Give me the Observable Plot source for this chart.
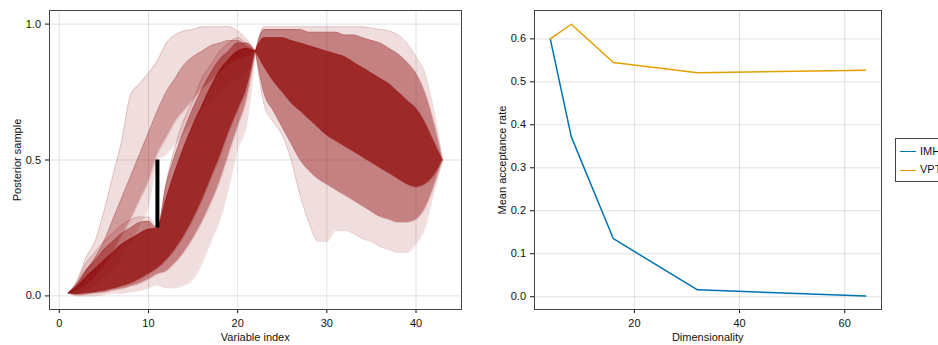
<!DOCTYPE html>
<html>
<head>
<meta charset="utf-8">
<script src="https://cdn.jsdelivr.net/npm/d3@7"></script>
<script src="https://cdn.jsdelivr.net/npm/@observablehq/plot@0.6"></script>
<style>
html, body { margin: 0; padding: 0; background: #fff; overflow: hidden; }
#wrap { position: relative; width: 938px; height: 345px; overflow: hidden; font-family: "Liberation Sans", Arial, sans-serif; color: #111; }
#left { position: absolute; left: 0; top: 0; }
#right { position: absolute; left: 470px; top: 0; }
.lbl { position: absolute; font-size: 11px; line-height: 11px; white-space: nowrap; }
.xl { transform: translateX(-50%); }
.yl { transform: translate(-50%, -50%) rotate(-90deg); }
.legend { position: absolute; left: 895px; top: 137.5px; width: 80px; height: 44px; border: 1px solid #444; box-sizing: border-box; background: #fff; }
.legend .ln { position: absolute; left: 4px; width: 16px; height: 0; border-top: 1.5px solid; }
.legend .tx { position: absolute; left: 24px; font-size: 11px; line-height: 11px; }
</style>
</head>
<body>
<div id="wrap">
  <div id="left"></div>
  <div id="right"></div>
  <div class="lbl xl" style="left:255.3px; top:332.2px;">Variable index</div>
  <div class="lbl yl" style="left:16.7px; top:159.5px;">Posterior sample</div>
  <div class="lbl xl" style="left:707.7px; top:332.2px;">Dimensionality</div>
  <div class="lbl yl" style="left:501.7px; top:159.5px;">Mean acceptance rate</div>
  <div class="legend">
    <div class="ln" style="top:12.5px; border-color:#0072B2;"></div>
    <div class="tx" style="top:7.2px;">IMH</div>
    <div class="ln" style="top:31px; border-color:#E69F00;"></div>
    <div class="tx" style="top:25.7px;">VPT</div>
  </div>
</div>
<script>
// ---------- Left panel: posterior sample envelopes ----------
const leftIdx   = [1,2,3,4,5,6,7,8,9,10,11,12,13,14,15,16,17,18,19,20,21,22];
// bundle passing below the constraint at index 11
const lowOuterLo = [0.01,0.0,0.0,0.0,0.005,0.01,0.01,0.015,0.02,0.03,0.04,0.03,0.03,0.04,0.06,0.12,0.2,0.28,0.4,0.54,0.63,0.9];
const lowOuterHi = [0.01,0.05,0.12,0.16,0.2,0.23,0.26,0.28,0.29,0.29,0.25,0.42,0.55,0.65,0.72,0.8,0.85,0.9,0.93,0.95,0.93,0.9];
const lowMidLo   = [0.01,0.003,0.005,0.01,0.012,0.02,0.025,0.035,0.045,0.06,0.08,0.09,0.12,0.16,0.21,0.27,0.34,0.42,0.52,0.62,0.72,0.9];
const lowMidHi   = [0.01,0.045,0.095,0.13,0.17,0.2,0.23,0.25,0.27,0.275,0.25,0.41,0.52,0.61,0.69,0.76,0.82,0.87,0.9,0.93,0.93,0.9];
const lowCoreLo  = [0.01,0.005,0.008,0.012,0.018,0.025,0.035,0.045,0.06,0.08,0.1,0.13,0.17,0.22,0.28,0.35,0.43,0.51,0.6,0.68,0.76,0.9];
const lowCoreHi  = [0.01,0.035,0.07,0.1,0.13,0.16,0.19,0.21,0.23,0.245,0.25,0.36,0.46,0.55,0.63,0.7,0.77,0.83,0.87,0.9,0.91,0.9];
// bundle passing above the constraint at index 11
const upOuterLo  = [0.01,0.01,0.02,0.04,0.07,0.1,0.15,0.2,0.26,0.33,0.5,0.52,0.56,0.6,0.64,0.68,0.72,0.75,0.78,0.8,0.83,0.9];
const upOuterHi  = [0.01,0.056,0.14,0.2,0.31,0.44,0.57,0.74,0.78,0.82,0.865,0.93,0.96,0.975,0.98,0.99,0.99,0.99,0.99,0.975,0.945,0.9];
const upCoreLo   = [0.01,0.02,0.04,0.07,0.11,0.16,0.22,0.28,0.35,0.42,0.52,0.58,0.64,0.68,0.72,0.76,0.79,0.82,0.85,0.87,0.88,0.9];
const upCoreHi   = [0.01,0.04,0.09,0.14,0.2,0.28,0.36,0.44,0.52,0.6,0.68,0.75,0.8,0.85,0.88,0.9,0.92,0.93,0.94,0.94,0.92,0.9];
// right part (index 22..43)
const rightIdx = [22,23,24,25,26,27,28,29,30,31,32,33,34,35,36,37,38,39,40,41,42,43];
const rOuterLo = [0.9,0.7,0.64,0.59,0.5,0.37,0.27,0.2,0.2,0.24,0.24,0.23,0.21,0.2,0.18,0.17,0.16,0.16,0.19,0.25,0.38,0.5];
const rOuterHi = [0.9,0.99,0.99,0.99,0.99,0.99,0.99,0.99,0.99,0.99,0.99,0.99,0.99,0.985,0.98,0.975,0.96,0.93,0.88,0.82,0.68,0.5];
const rMidLo   = [0.9,0.74,0.68,0.62,0.56,0.5,0.46,0.43,0.41,0.39,0.37,0.35,0.33,0.31,0.29,0.28,0.27,0.27,0.28,0.32,0.4,0.5];
const rMidHi   = [0.9,0.98,0.98,0.98,0.98,0.98,0.97,0.97,0.97,0.97,0.96,0.96,0.95,0.94,0.93,0.91,0.89,0.86,0.82,0.75,0.64,0.5];
const rCoreLo  = [0.9,0.84,0.79,0.75,0.71,0.68,0.65,0.62,0.59,0.57,0.55,0.53,0.51,0.49,0.47,0.45,0.43,0.41,0.4,0.41,0.44,0.5];
const rCoreHi  = [0.9,0.95,0.95,0.95,0.94,0.93,0.92,0.91,0.9,0.89,0.88,0.86,0.84,0.82,0.8,0.78,0.75,0.72,0.69,0.64,0.57,0.5];
// constraint interval drawn in black
const constraintIdx = [11];
const constraintLo  = [0.25];
const constraintHi  = [0.5];
const leftXTicks = [0, 10, 20, 30, 40];
const leftYTicks = [0, 0.5, 1.0];

// ---------- Right panel: mean acceptance rate ----------
const dims = [4, 8, 16, 32, 64];
const imh  = [0.6, 0.372, 0.135, 0.016, 0.002];
const vpt  = [0.6, 0.634, 0.545, 0.521, 0.527];
const methods = ["IMH", "VPT"];
const rightXTicks = [20, 40, 60];
const rightYTicks = [0, 0.1, 0.2, 0.3, 0.4, 0.5, 0.6];

const RED = "#8B0000";
const FONT = '"Liberation Sans", Arial, sans-serif';
const band = (idx, lo, hi) => idx.map((x, k) => ({x, lo: lo[k], hi: hi[k]}));
const outerBands = [band(leftIdx, lowOuterLo, lowOuterHi), band(leftIdx, upOuterLo, upOuterHi), band(rightIdx, rOuterLo, rOuterHi)];
const midBands   = [band(leftIdx, lowMidLo, lowMidHi), band(leftIdx, upCoreLo, upCoreHi), band(rightIdx, rMidLo, rMidHi)];
const midOpacity = [0.42, 0.3, 0.42];
const coreBands  = [band(leftIdx, lowCoreLo, lowCoreHi), band(rightIdx, rCoreLo, rCoreHi)];
const fmt1 = d3.format(".1f");
const common = {
  height: 345, marginTop: 10, marginBottom: 36,
  style: {fontFamily: FONT, fontSize: "11px", color: "#111", background: "transparent", overflow: "visible"}
};

const areaOpts = (op) => ({x: "x", y1: "lo", y2: "hi", fill: RED, fillOpacity: op, curve: "monotone-x"});
const edge = (b, key, op) => Plot.lineY(b, {x: "x", y: key, stroke: RED, strokeOpacity: op, strokeWidth: 1, curve: "monotone-x"});
const leftMarks = [
  Plot.gridX(leftXTicks, {stroke: "#000", strokeOpacity: 0.12}),
  Plot.gridY(leftYTicks, {stroke: "#000", strokeOpacity: 0.12}),
  ...outerBands.map(b => Plot.areaY(b, areaOpts(0.13))),
  ...outerBands.flatMap(b => [edge(b, "lo", 0.15), edge(b, "hi", 0.15)]),
  ...midBands.map((b, k) => Plot.areaY(b, areaOpts(midOpacity[k]))),
  ...midBands.flatMap(b => [edge(b, "lo", 0.15), edge(b, "hi", 0.15)]),
  ...coreBands.map(b => Plot.areaY(b, areaOpts(0.68))),
  ...coreBands.flatMap(b => [edge(b, "lo", 0.2), edge(b, "hi", 0.2)]),
  Plot.ruleX(constraintIdx.map((x, k) => ({x, lo: constraintLo[k], hi: constraintHi[k]})),
    {x: "x", y1: "lo", y2: "hi", stroke: "black", strokeWidth: 4}),
  Plot.frame({stroke: "#444", strokeWidth: 1})
];
const left = Plot.plot({
  ...common, width: 470, marginLeft: 49, marginRight: 9,
  x: {domain: [-1.1, 45.1], ticks: leftXTicks, tickSize: 4, tickPadding: 6, label: null},
  y: {domain: [-0.05, 1.05], ticks: leftYTicks, tickFormat: fmt1, tickSize: 4, tickPadding: 4.5, label: null},
  marks: leftMarks
});
document.getElementById("left").appendChild(left);

const rows = [];
dims.forEach((d, k) => rows.push({d, v: imh[k], m: methods[0]}));
dims.forEach((d, k) => rows.push({d, v: vpt[k], m: methods[1]}));
const right = Plot.plot({
  ...common, width: 468, marginLeft: 64, marginRight: 57,
  x: {domain: [1, 67], ticks: rightXTicks, tickSize: 4, tickPadding: 6, label: null},
  y: {domain: [-0.0297, 0.666], ticks: rightYTicks, tickFormat: fmt1, tickSize: 4, tickPadding: 4.5, label: null},
  color: {domain: methods, range: ["#0072B2", "#E69F00"]},
  marks: [
    Plot.gridX(rightXTicks, {stroke: "#000", strokeOpacity: 0.12}),
    Plot.gridY(rightYTicks, {stroke: "#000", strokeOpacity: 0.12}),
    Plot.lineY(rows, {x: "d", y: "v", stroke: "m", z: "m", strokeWidth: 1.5}),
    Plot.frame({stroke: "#444", strokeWidth: 1})
  ]
});
document.getElementById("right").appendChild(right);
</script>
</body>
</html>
